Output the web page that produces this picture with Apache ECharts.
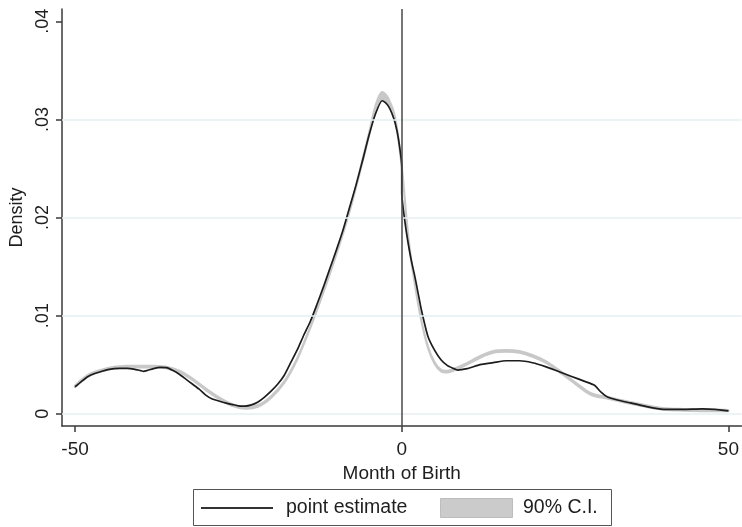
<!DOCTYPE html>
<html>
<head>
<meta charset="utf-8">
<script src="https://cdn.jsdelivr.net/npm/echarts@6/dist/echarts.min.js"></script>
<style>
  html, body { margin: 0; padding: 0; background: #fff; }
  #chart { width: 742px; height: 527px; }
</style>
</head>
<body>
<div id="chart"></div>
<script>
// Point estimate of the density by month of birth (relative to cutoff)
const estMonth = [-50, -49, -48, -47, -46, -45, -44, -43, -42, -41, -40, -39.5, -39, -38, -37, -36, -35, -34, -33, -32, -31, -30, -29, -28, -27, -26, -25, -24, -23, -22, -21, -20, -19, -18, -17, -16, -15, -14, -13, -12, -11, -10, -9, -8, -7, -6, -5, -4, -3, -2.5, -2, -1.5, -1, -0.5, 0,
  0, 0.5, 1, 1.5, 2, 2.5, 3, 4, 5, 6, 7, 8, 8.5, 10, 12, 14, 16, 17, 18, 20, 22, 24, 26, 28, 29.5, 30.5, 31.5, 33, 35, 37, 40, 43, 46, 48, 50];
const estDensity = [0.00275, 0.0033, 0.0038, 0.0041, 0.0043, 0.0045, 0.0046, 0.00462, 0.00463, 0.00455, 0.0044, 0.00432, 0.0044, 0.0046, 0.00472, 0.0047, 0.0044, 0.0040, 0.0035, 0.0030, 0.0025, 0.0019, 0.0015, 0.0013, 0.0011, 0.00095, 0.0008, 0.00078, 0.0009, 0.0012, 0.0017, 0.0023, 0.0030, 0.0039, 0.0052, 0.0065, 0.0080, 0.0094, 0.0111, 0.0129, 0.0148, 0.0167, 0.0187, 0.0210, 0.0233, 0.0258, 0.0284, 0.0306, 0.0319, 0.0317, 0.0313, 0.0306, 0.0296, 0.0280, 0.0252,
  0.0225, 0.0195, 0.0173, 0.0155, 0.0140, 0.0123, 0.0106, 0.0079, 0.0065, 0.0055, 0.0049, 0.0046, 0.00445, 0.0046, 0.0050, 0.0052, 0.0054, 0.0054, 0.0054, 0.0052, 0.0048, 0.0043, 0.0038, 0.0033, 0.0029, 0.0022, 0.0017, 0.0014, 0.0011, 0.0008, 0.00045, 0.00045, 0.0005, 0.00045, 0.0003];

// 90% confidence band
const ciMonth = [-50, -48, -46, -44, -42, -40, -38, -36, -34, -32, -30, -28, -26, -24, -22, -20, -18, -16, -14, -12, -10, -8, -6, -5, -4, -3, -2, -1, 0, 1, 2, 3, 4, 5, 6, 7, 8, 10, 12, 14, 16, 18, 20, 22, 24, 26, 28, 29, 30, 31, 33, 35, 38, 40, 43, 46, 48, 50];
const ciLower = [0.0027, 0.0038, 0.0043, 0.0046, 0.0047, 0.0047, 0.0047, 0.0046, 0.0042, 0.0034, 0.0024, 0.0015, 0.0008, 0.0005, 0.0007, 0.0016, 0.0031, 0.0055, 0.0087, 0.0123, 0.0162, 0.0205, 0.0256, 0.0283, 0.0309, 0.0320, 0.0315, 0.0298, 0.0250, 0.0178, 0.0131, 0.0094, 0.0067, 0.0051, 0.0043, 0.0042, 0.0044, 0.0050, 0.0057, 0.0062, 0.0063, 0.0062, 0.0058, 0.0052, 0.0043, 0.0033, 0.0023, 0.0019, 0.0017, 0.0016, 0.0013, 0.0010, 0.0006, 0.0004, 0.0003, 0.00025, 0.00025, 0.00025];
const ciUpper = [0.0029, 0.0040, 0.0045, 0.0048, 0.0049, 0.0049, 0.0049, 0.0048, 0.0044, 0.0036, 0.0026, 0.0017, 0.0010, 0.0007, 0.0009, 0.0018, 0.0033, 0.0057, 0.0089, 0.0125, 0.0164, 0.0207, 0.0260, 0.0287, 0.0315, 0.0328, 0.0321, 0.0302, 0.0254, 0.0182, 0.0133, 0.0096, 0.0069, 0.0053, 0.0045, 0.0044, 0.0046, 0.0052, 0.0059, 0.0064, 0.0065, 0.0064, 0.0060, 0.0054, 0.0045, 0.0035, 0.0025, 0.0021, 0.0019, 0.0018, 0.0015, 0.0012, 0.0008, 0.0006, 0.0005, 0.00045, 0.0004, 0.0004];

// Axis ticks and labels
const xTicks = [-50, 0, 50];
const yTicks = [0, 0.01, 0.02, 0.03, 0.04];
const yTickLabels = ['0', '.01', '.02', '.03', '.04'];
const yGridValues = [0, 0.01, 0.02, 0.03];
const cutoff = 0;

const FONT = "'Liberation Sans', Arial, sans-serif";
const TEXT = '#1e1e1e';
const AXIS = '#3a3a3a';
const BAND = '#c8c8c8';

const chart = echarts.init(document.getElementById('chart'), null, { renderer: 'canvas' });

const estData = estMonth.map((m, i) => [m, estDensity[i]]);

const option = {
  animation: false,
  backgroundColor: '#ffffff',
  grid: { left: 62, right: 0, top: 9, bottom: 101, containLabel: false },
  xAxis: {
    type: 'value',
    min: -52, max: 52,
    name: 'Month of Birth',
    nameLocation: 'middle',
    nameGap: 35,
    nameTextStyle: { fontFamily: FONT, fontSize: 19, color: TEXT },
    axisLine: { show: true, onZero: false, lineStyle: { color: AXIS, width: 1.5 } },
    axisTick: { show: true, length: 6, customValues: xTicks, lineStyle: { color: AXIS, width: 1.5 } },
    axisLabel: { customValues: xTicks, fontFamily: FONT, fontSize: 19, color: TEXT, margin: 14 },
    splitLine: { show: false }
  },
  yAxis: {
    type: 'value',
    min: -0.00125, max: 0.04125,
    name: 'Density',
    nameLocation: 'middle',
    nameGap: 34,
    nameTextStyle: { fontFamily: FONT, fontSize: 18, color: TEXT },
    axisLine: { show: true, onZero: false, lineStyle: { color: AXIS, width: 1.5 } },
    axisTick: { show: true, length: 6, customValues: yTicks, lineStyle: { color: AXIS, width: 1.5 } },
    axisLabel: {
      customValues: yTicks,
      rotate: 90,
      fontFamily: FONT, fontSize: 18, color: TEXT, margin: 10,
      formatter: function (v) {
        const i = yTicks.findIndex(t => Math.abs(t - v) < 1e-9);
        return i >= 0 ? yTickLabels[i] : '';
      }
    },
    splitLine: { show: false }
  },
  series: [
    {
      name: '90% C.I.',
      type: 'custom',
      coordinateSystem: 'cartesian2d',
      silent: true,
      z: 2,
      data: [[0, 0]],
      renderItem: function (params, api) {
        const pts = [];
        for (let i = 0; i < ciMonth.length; i++) pts.push(api.coord([ciMonth[i], ciUpper[i]]));
        for (let i = ciMonth.length - 1; i >= 0; i--) pts.push(api.coord([ciMonth[i], ciLower[i]]));
        return {
          type: 'polygon',
          shape: { points: pts, smooth: 0.3 },
          style: { fill: BAND, stroke: BAND, lineWidth: 1.8, lineJoin: 'round' }
        };
      },
      markLine: {
        silent: true,
        symbol: ['none', 'none'],
        label: { show: false },
        lineStyle: { color: '#e6eff1', width: 1.5, type: 'solid' },
        data: yGridValues.map(v => ({ yAxis: v }))
      }
    },
    {
      name: 'point estimate',
      type: 'line',
      data: estData,
      showSymbol: false,
      smooth: 0.2,
      z: 4,
      lineStyle: { color: '#1c1c1c', width: 1.7 },
      markLine: {
        silent: true,
        symbol: ['none', 'none'],
        label: { show: false },
        lineStyle: { color: '#4a4a4a', width: 1.5, type: 'solid' },
        data: [{ xAxis: cutoff }]
      }
    }
  ],
  graphic: [
    { type: 'rect', shape: { x: 193.5, y: 489.5, width: 418, height: 36 }, style: { fill: '#fff', stroke: '#555', lineWidth: 1 } },
    { type: 'line', shape: { x1: 201, y1: 508, x2: 273, y2: 508 }, style: { stroke: '#333', lineWidth: 1.8 } },
    { type: 'text', x: 286, y: 508, style: { text: 'point estimate', fontFamily: FONT, fontSize: 19.5, fill: TEXT, verticalAlign: 'middle', align: 'left' } },
    { type: 'rect', shape: { x: 440.5, y: 498.5, width: 72, height: 19 }, style: { fill: '#cbcbcb', stroke: '#bdbdbd', lineWidth: 1 } },
    { type: 'text', x: 523, y: 508, style: { text: '90% C.I.', fontFamily: FONT, fontSize: 19.5, fill: TEXT, verticalAlign: 'middle', align: 'left' } }
  ]
};

chart.setOption(option);
</script>
</body>
</html>
